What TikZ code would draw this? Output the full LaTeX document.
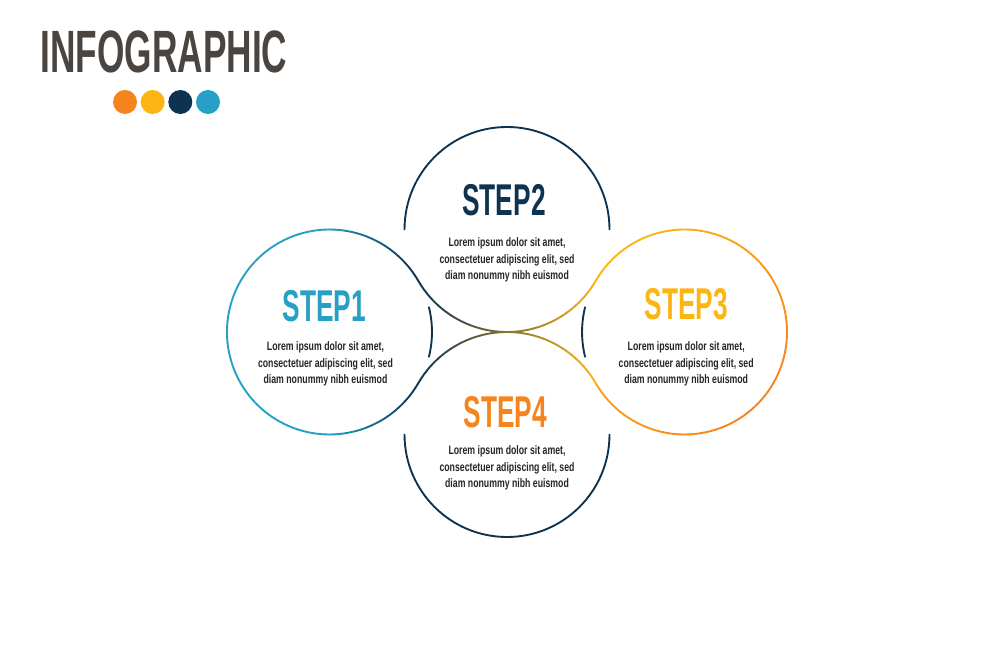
\documentclass[tikz,border=0pt]{standalone}
\usepackage{fontspec}
\usepackage{xcolor}
\usepackage{tikz}
\usetikzlibrary{positioning,calc}
\newfontfamily\titlefont{Liberation Sans}[FakeStretch=0.59]
\newfontfamily\bodyfont{Liberation Sans}[FakeStretch=0.71]
\definecolor{tealc}{HTML}{26A0C4}
\definecolor{navyc}{HTML}{0D3350}
\definecolor{yelc}{HTML}{FBB614}
\definecolor{orac}{HTML}{F6841E}
\definecolor{greyc}{HTML}{4A4540}
\definecolor{bodyc}{HTML}{262626}

\begin{document}
\begin{tikzpicture}[
		ring/.style={line width=1.6pt,line cap=round},
		steplabel/.style={font=\titlefont\bfseries\fontsize{38}{38}\selectfont,inner sep=0pt},
		lorem/.style={font=\bodyfont\bfseries\fontsize{10.5}{14.1}\selectfont,text=bodyc,align=center,inner sep=0pt},
		dot/.style={circle,minimum size=0.72cm,inner sep=0pt}]
		\useasboundingbox[fill=white] (0,0) rectangle (30,20.01);
		\def\R{3.075}
		
		% title and colour dots
		\node[font=\titlefont\bfseries\fontsize{51}{51}\selectfont,text=greyc,inner sep=0pt] (title) at (4.92,18.465) {INFOGRAPHIC};
		\foreach \c [count=\i] in {orac,yelc,navyc,tealc}
			\node[dot,fill=\c] (d\i) at (2.92+0.83*\i,16.95) {};
		
		% centres of the four rings
		\coordinate (o) at (15.21,10.05);
		\coordinate[shift={(-5.326,0)}] (c1) at (o);
		\coordinate[shift={(5.326,0)}] (c3) at (o);
		\coordinate[shift={(0,\R)}] (c2) at (o);
		\coordinate[shift={(0,-\R)}] (c4) at (o);
		
		% figure-eight outline, coloured piece by piece
		\foreach \a in {30,33,...,327}{
			\pgfmathtruncatemacro\p{max(0,min(100,(0.866-cos(\a))/0.866*100))}
			\draw[ring,draw=tealc!\p!navyc] (c1) ++(\a:\R) arc[start angle=\a,delta angle=3,radius=\R];
		}
		\foreach \a in {210,213,...,327}{
			\pgfmathtruncatemacro\p{(cos(\a)+0.866)/1.732*100}
			\draw[ring,draw=yelc!\p!navyc] (c2) ++(\a:\R) arc[start angle=\a,delta angle=3,radius=\R];
		}
		\foreach \a in {30,33,...,147}{
			\pgfmathtruncatemacro\p{(cos(\a)+0.866)/1.732*100}
			\draw[ring,draw=yelc!\p!navyc] (c4) ++(\a:\R) arc[start angle=\a,delta angle=3,radius=\R];
		}
		\foreach \a in {-150,-147,...,147}{
			\pgfmathtruncatemacro\p{((cos(\a)-sin(\a))/1.414+1)/2*100}
			\draw[ring,draw=orac!\p!yelc] (c3) ++(\a:\R) arc[start angle=\a,delta angle=3,radius=\R];
		}
		
		% open halves and short inner arcs
		\draw[ring,navyc] (c2) ++(0:\R) arc[start angle=0,end angle=180,radius=\R];
		\draw[ring,navyc] (c4) ++(180:\R) arc[start angle=180,end angle=360,radius=\R];
		\draw[ring,navyc] (c1) ++(-14:\R) arc[start angle=-14,end angle=14,radius=\R];
		\draw[ring,navyc] (c3) ++(166:\R) arc[start angle=166,end angle=194,radius=\R];
		
		% labels
		\node[steplabel,text=tealc,shift={(-0.15,0.78)}] (s1) at (c1) {STEP1};
		\node[steplabel,text=navyc,shift={(-0.09,0.885)}] (s2) at (c2) {STEP2};
		\node[steplabel,text=yelc,shift={(0.05,0.82)}] (s3) at (c3) {STEP3};
		\node[steplabel,text=orac,shift={(-0.05,0.675)}] (s4) at (c4) {STEP4};
		\node[lorem,shift={(-0.12,-0.96)}] (t1) at (c1) {Lorem ipsum dolor sit amet,\\consectetuer adipiscing elit, sed\\diam nonummy nibh euismod};
		\node[lorem,shift={(0,-0.915)}] (t2) at (c2) {Lorem ipsum dolor sit amet,\\consectetuer adipiscing elit, sed\\diam nonummy nibh euismod};
		\node[lorem,shift={(0.05,-0.96)}] (t3) at (c3) {Lorem ipsum dolor sit amet,\\consectetuer adipiscing elit, sed\\diam nonummy nibh euismod};
		\node[lorem,shift={(0,-1.0)}] (t4) at (c4) {Lorem ipsum dolor sit amet,\\consectetuer adipiscing elit, sed\\diam nonummy nibh euismod};
	\end{tikzpicture}
\end{document}
